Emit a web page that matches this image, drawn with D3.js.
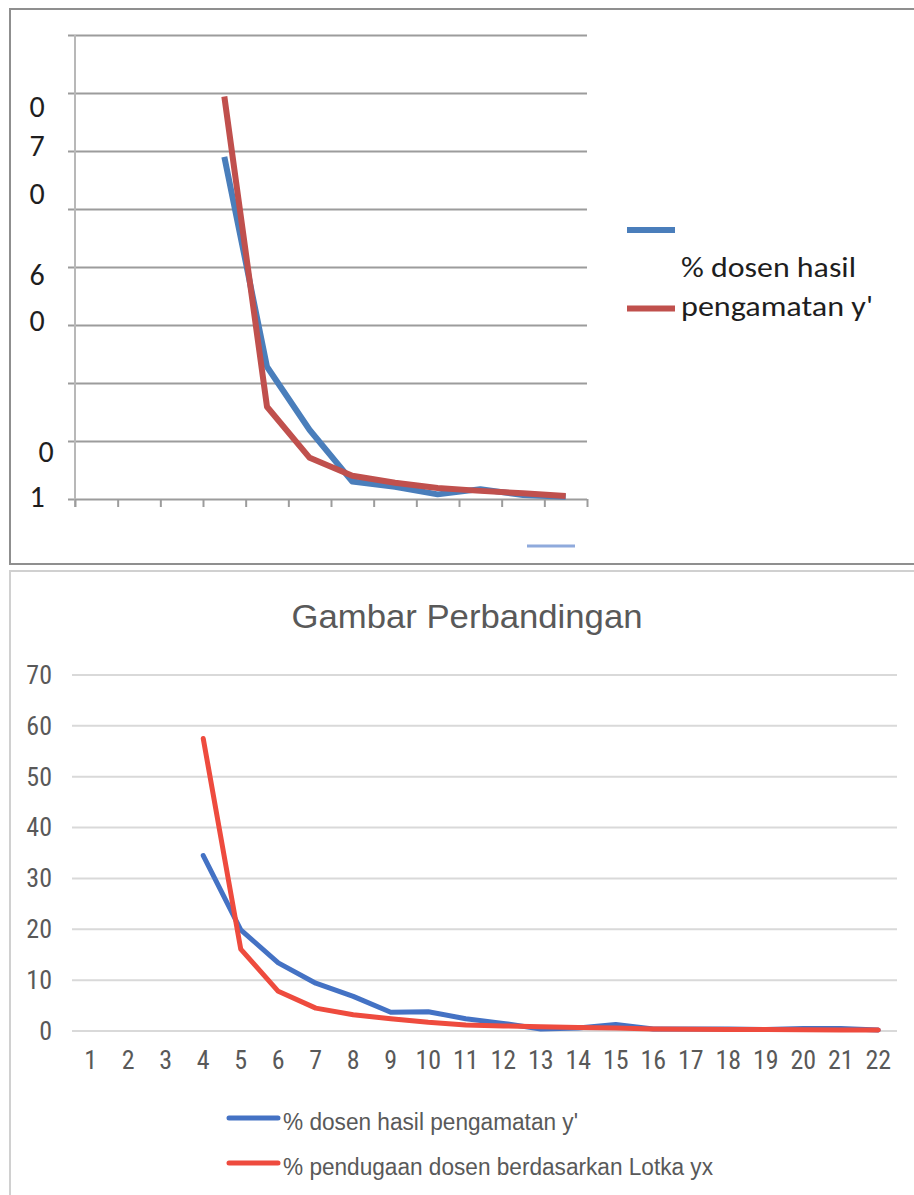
<!DOCTYPE html>
<html><head><meta charset="utf-8">
<script src="https://cdn.jsdelivr.net/npm/d3@7"></script>
<style>body{margin:0;background:#fff}svg{display:block}</style>
</head><body><svg id="c" width="914" height="1195"></svg>
<script>
// ---------- data: top (partially broken) chart ----------
const topCategories = d3.range(1, 13).map(String);
const topObserved = [null, null, null, 59.0, 22.8, 11.9, 3.0, 2.1, 0.8, 1.7, 0.7, 0.4];
const topLotka    = [null, null, null, 69.4, 15.9, 7.1, 4.0, 2.8, 1.9, 1.4, 1.0, 0.5];
const topGridValues = d3.range(0, 81, 10);
const topTickLabels = ["0", "7", "0", "6", "0", "0", "1"];
const topTickLabelValues = [67.8, 61.0, 52.8, 38.7, 30.9, 8.3, 0.45];
const topLegendLabels = ["% dosen hasil", "pengamatan y'"];

// ---------- data: bottom chart ----------
const categories = d3.range(1, 23).map(String);
const observed = [null, null, null, 34.5, 19.9, 13.4, 9.4, 6.8, 3.7, 3.8, 2.4, 1.5, 0.4, 0.6, 1.3, 0.4, 0.4, 0.4, 0.3, 0.5, 0.5, 0.2];
const lotka    = [null, null, null, 57.5, 16.1, 7.8, 4.5, 3.2, 2.4, 1.7, 1.2, 1.0, 0.85, 0.7, 0.6, 0.4, 0.35, 0.3, 0.28, 0.25, 0.22, 0.2];
const yTicks = d3.range(0, 71, 10);
const title = "Gambar Perbandingan";
const legendLabels = ["% dosen hasil pengamatan y'", "% pendugaan dosen berdasarkan Lotka yx"];

const svg = d3.select("#c");
svg.append("rect").attr("width", 914).attr("height", 1195).attr("fill", "#fff");

// ================= TOP CHART =================
const T = svg.append("g");
T.append("path").attr("d", "M914,9 H10 V564 H914").attr("fill", "none")
  .attr("stroke", "#8f8f8f").attr("stroke-width", 2);

const tx = d3.scaleBand().domain(topCategories).range([75, 587]);
const ty = d3.scaleLinear().domain([0, 80]).range([499, 35]);
const tEdge = d3.scaleLinear().domain([0, topCategories.length]).range([75, 587]);

const tGrid = T.append("g").attr("transform", "translate(68,0)")
  .call(d3.axisLeft(ty).tickValues(topGridValues).tickSize(-519).tickFormat(""));
tGrid.select(".domain").remove();
tGrid.selectAll("line").attr("stroke", "#9c9c9c").attr("stroke-width", 2);

T.append("line").attr("x1", 75).attr("x2", 75).attr("y1", ty(80)).attr("y2", 507)
  .attr("stroke", "#b8b8b8").attr("stroke-width", 2);

const tX = T.append("g").attr("transform", "translate(0,499)")
  .call(d3.axisBottom(tEdge).tickValues(d3.range(0, topCategories.length + 1)).tickSize(8).tickFormat(""));
tX.select(".domain").remove();
tX.selectAll("line").attr("stroke", "#9c9c9c").attr("stroke-width", 2);

const cal = "Carlito, Lato, 'Open Sans', sans-serif";
T.append("g").selectAll("text").data(topTickLabels).join("text")
  .attr("x", (d, i) => i === 5 ? 46 : 37)
  .attr("y", (d, i) => ty(topTickLabelValues[i]))
  .attr("dy", "0.36em")
  .attr("text-anchor", "middle")
  .attr("font-family", cal)
  .attr("font-size", 30).attr("fill", "#1e1e1e")
  .text(d => d);

const tLine = d3.line().defined(d => d != null)
  .x((d, i) => tx(topCategories[i]) + tx.bandwidth() / 2)
  .y(d => ty(d));
T.append("path").datum(topObserved).attr("d", tLine).attr("fill", "none")
  .attr("stroke", "#4A7EBB").attr("stroke-width", 6).attr("stroke-linejoin", "round");
T.append("path").datum(topLotka).attr("d", tLine).attr("fill", "none")
  .attr("stroke", "#C0504D").attr("stroke-width", 6).attr("stroke-linejoin", "round");

T.append("line").attr("x1", 627).attr("x2", 675).attr("y1", 230).attr("y2", 230)
  .attr("stroke", "#4A7EBB").attr("stroke-width", 6);
T.append("line").attr("x1", 627).attr("x2", 675).attr("y1", 308.5).attr("y2", 308.5)
  .attr("stroke", "#C0504D").attr("stroke-width", 6);
T.append("text").attr("x", 681).attr("y", 277).text(topLegendLabels[0])
  .attr("font-family", cal).attr("font-size", 29)
  .attr("fill", "#1e1e1e").attr("textLength", 175).attr("lengthAdjust", "spacingAndGlyphs");
T.append("text").attr("x", 681).attr("y", 316).text(topLegendLabels[1])
  .attr("font-family", cal).attr("font-size", 29)
  .attr("fill", "#1e1e1e").attr("textLength", 192).attr("lengthAdjust", "spacingAndGlyphs");

T.append("line").attr("x1", 527).attr("x2", 575).attr("y1", 546).attr("y2", 546)
  .attr("stroke", "#8FAADC").attr("stroke-width", 3);

// ================= BOTTOM CHART =================
const B = svg.append("g");
B.append("path").attr("d", "M914,571 H10 V1195").attr("fill", "none")
  .attr("stroke", "#d0d0d0").attr("stroke-width", 2);

B.append("text").attr("x", 467).attr("y", 628).attr("text-anchor", "middle")
  .attr("font-family", "'Liberation Sans', Arial, sans-serif").attr("font-size", 34)
  .attr("fill", "#595959").attr("textLength", 351).attr("lengthAdjust", "spacingAndGlyphs")
  .text(title);

const x = d3.scaleBand().domain(categories).range([72, 897]);
const y = d3.scaleLinear().domain([0, 70]).range([1031, 675]);

B.append("g").selectAll("line").data(yTicks).join("line")
  .attr("x1", 72).attr("x2", 897).attr("y1", d => y(d)).attr("y2", d => y(d))
  .attr("stroke", "#d9d9d9").attr("stroke-width", 2);

const narrow = "'Liberation Sans Narrow', 'Arial Narrow', 'Roboto Condensed', sans-serif";
const yAx = B.append("g").attr("transform", "translate(72,0)")
  .call(d3.axisLeft(y).tickValues(yTicks).tickSize(0).tickPadding(20));
yAx.select(".domain").remove();
yAx.selectAll("text").attr("font-family", narrow).attr("font-size", 26).attr("fill", "#595959");

const xAx = B.append("g").attr("transform", "translate(0,1031)")
  .call(d3.axisBottom(x).tickSize(0).tickPadding(20));
xAx.select(".domain").remove();
xAx.selectAll("text").attr("font-family", narrow).attr("font-size", 26).attr("fill", "#595959");

const line = d3.line().defined(d => d != null)
  .x((d, i) => x(categories[i]) + x.bandwidth() / 2)
  .y(d => y(d));
B.append("path").datum(observed).attr("d", line).attr("fill", "none")
  .attr("stroke", "#4472C4").attr("stroke-width", 5).attr("stroke-linejoin", "round").attr("stroke-linecap", "round");
B.append("path").datum(lotka).attr("d", line).attr("fill", "none")
  .attr("stroke", "#EE4B3E").attr("stroke-width", 5).attr("stroke-linejoin", "round").attr("stroke-linecap", "round");

const legColors = ["#4472C4", "#EE4B3E"];
const legY = [1118, 1163];
const legW = [295, 430];
legendLabels.forEach((lab, i) => {
  B.append("line").attr("x1", 229).attr("x2", 278).attr("y1", legY[i]).attr("y2", legY[i])
    .attr("stroke", legColors[i]).attr("stroke-width", 5).attr("stroke-linecap", "round");
  B.append("text").attr("x", 283).attr("y", legY[i] + 11.5)
    .attr("font-family", "'Liberation Sans', Arial, sans-serif").attr("font-size", 23)
    .attr("fill", "#595959").attr("textLength", legW[i]).attr("lengthAdjust", "spacingAndGlyphs")
    .text(lab);
});
</script>
</body></html>
